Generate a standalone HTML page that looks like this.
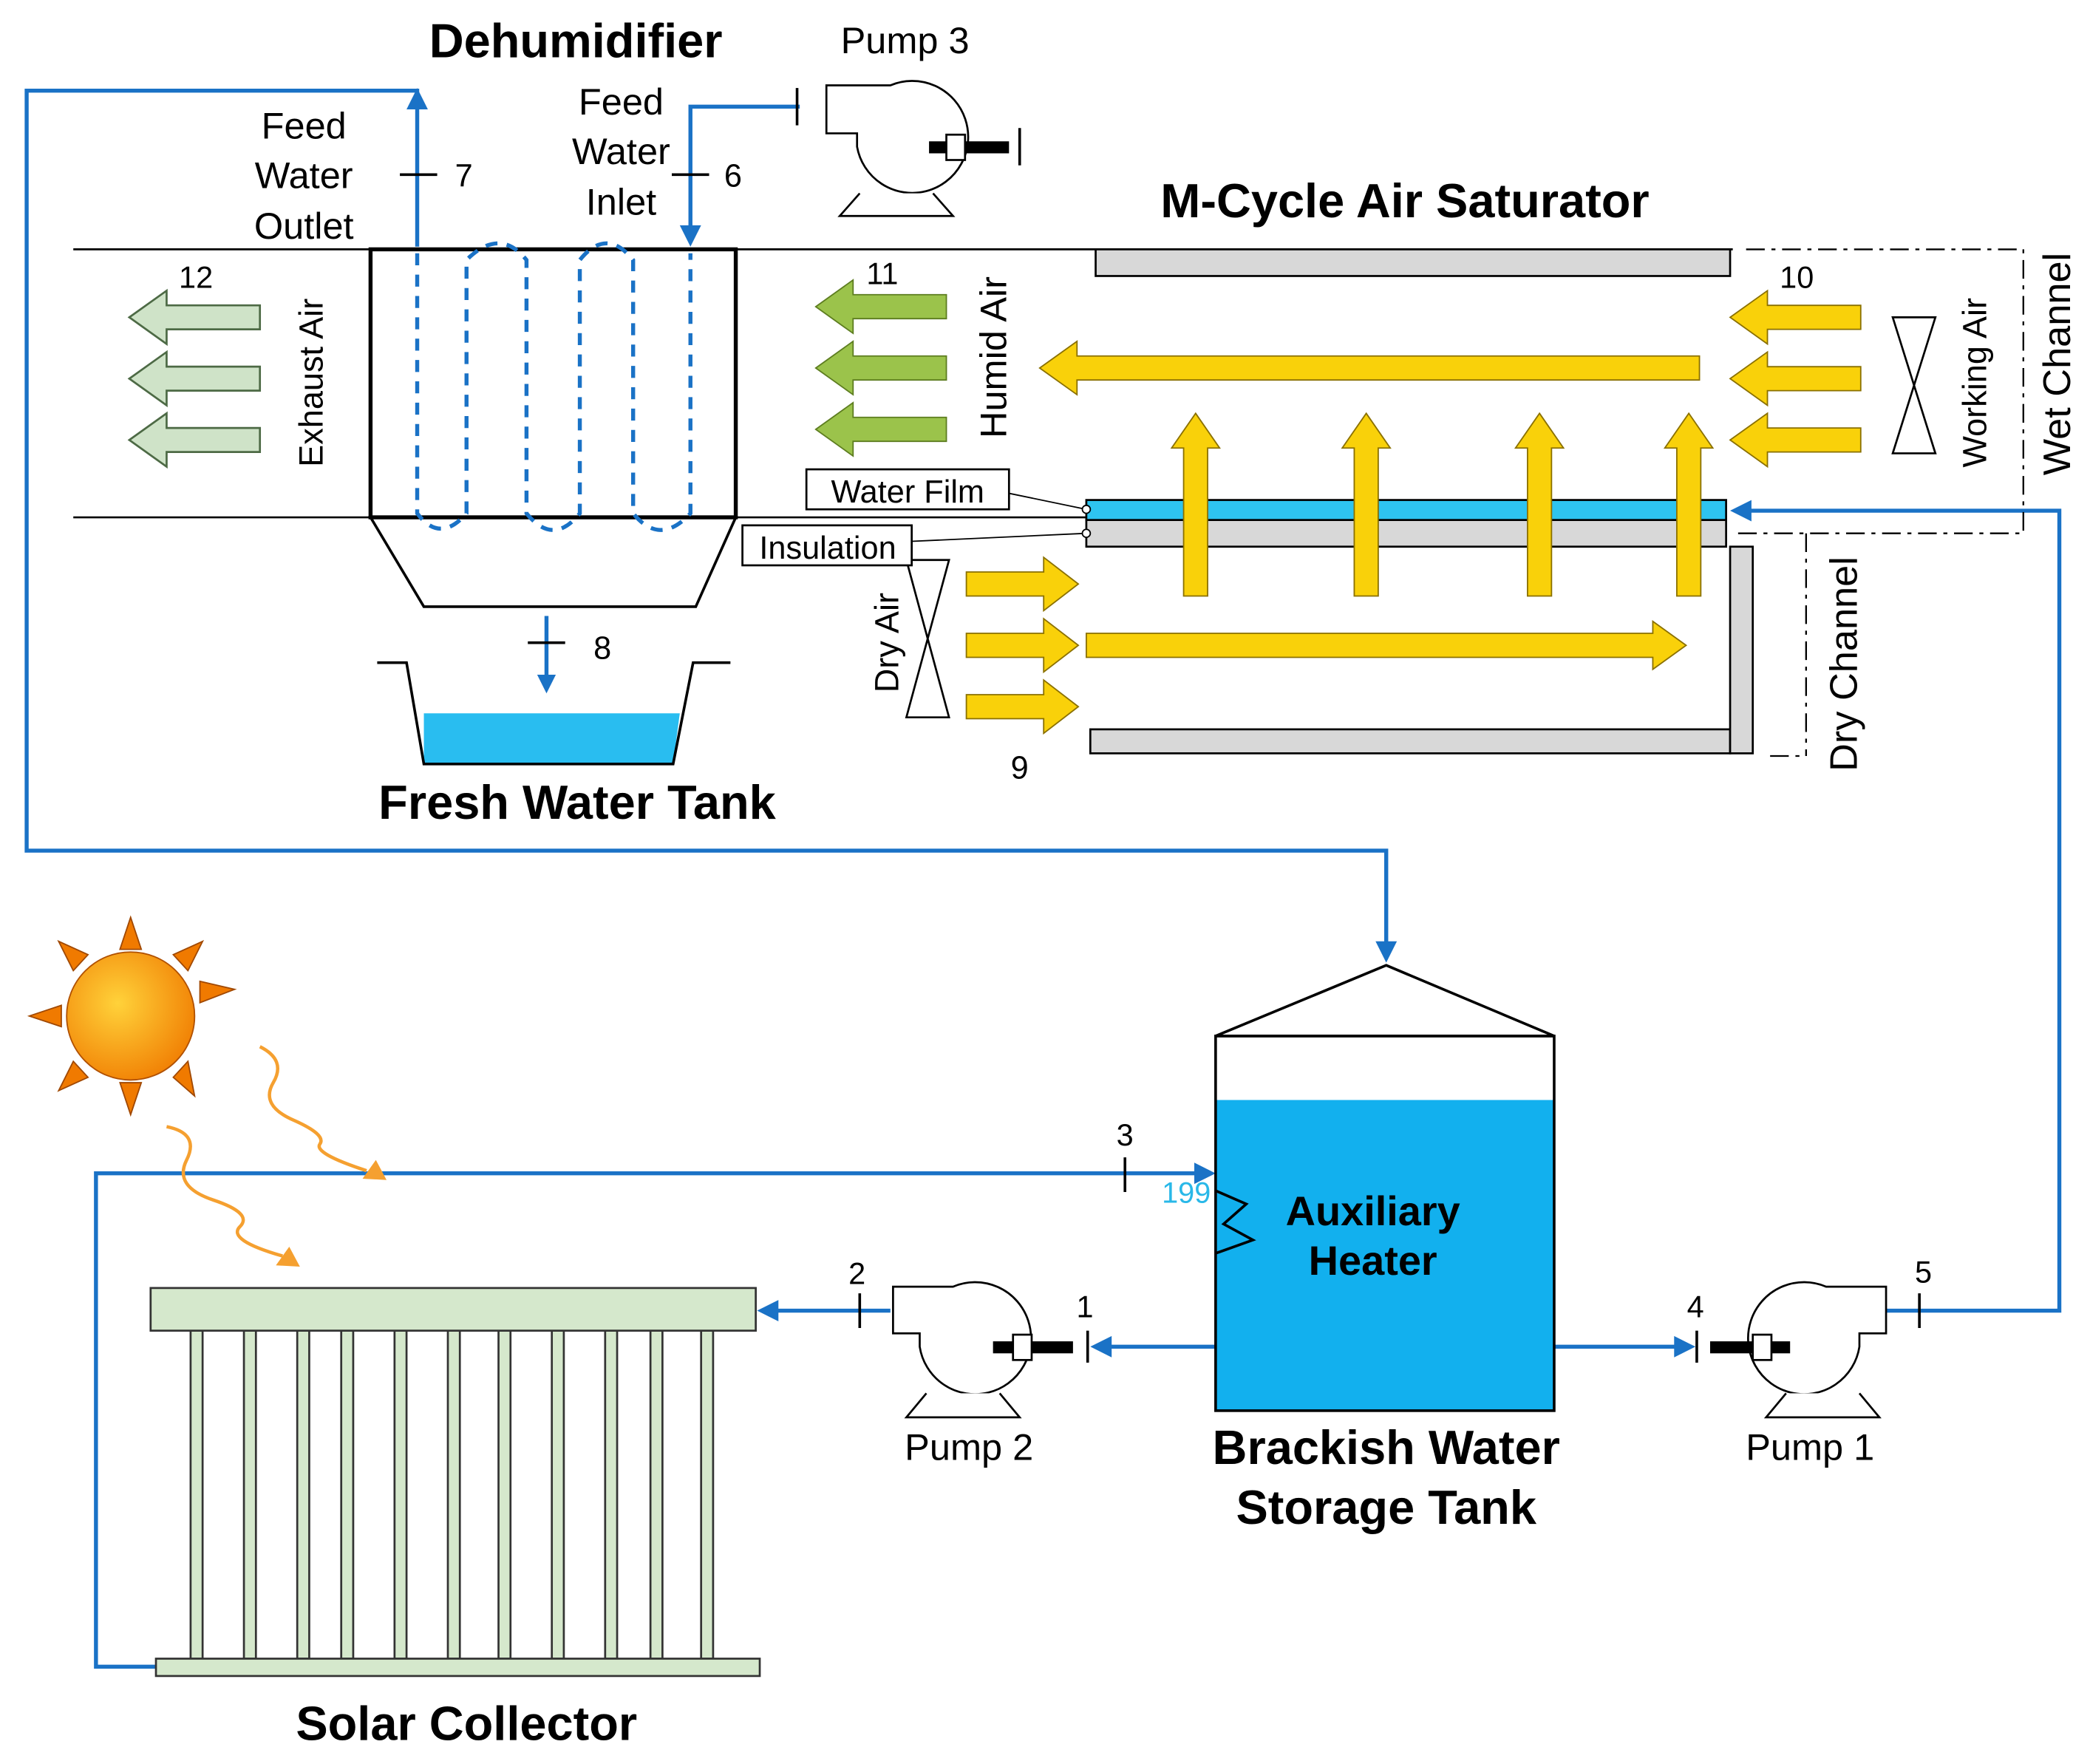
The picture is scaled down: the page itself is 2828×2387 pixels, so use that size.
<!DOCTYPE html>
<html><head><meta charset="utf-8"><style>
html,body{margin:0;padding:0;background:#fff;}
svg{display:block;}
text{font-family:"Liberation Sans",Arial,sans-serif;}
</style></head><body>
<svg width="2828" height="2387" viewBox="0 0 1568 1323" preserveAspectRatio="none" xmlns="http://www.w3.org/2000/svg">
<defs>
<path id="la" d="M0,0 L28,-20 L28,-9 L98,-9 L98,9 L28,9 L28,20 Z"/>
<path id="ra" d="M0,0 L-26,-20 L-26,-9 L-84,-9 L-84,9 L-26,9 L-26,20 Z"/>
<path id="ua" d="M0,0 L18,26 L9,26 L9,137 L-9,137 L-9,26 L-18,26 Z"/>
<radialGradient id="sun" cx="0.4" cy="0.4" r="0.7"><stop offset="0" stop-color="#ffd23a"/><stop offset="1" stop-color="#f07a00"/></radialGradient>
</defs>
<g fill="none" stroke="#1a72c6" stroke-width="3">
<polyline points="313,185 313,68 20,68 20,638 1040,638 1040,712"/>
<polyline points="600,80 518,80 518,175"/>
<polyline points="117,1250 72,1250 72,880 900,880"/>
<line x1="912" y1="1010" x2="825" y2="1010"/>
<line x1="668" y1="983" x2="578" y2="983"/>
<line x1="1166" y1="1010" x2="1262" y2="1010"/>
<polyline points="1415,983 1545,983 1545,383 1308,383"/>
<line x1="410" y1="462" x2="410" y2="510"/>
</g>
<g fill="#1a72c6">
<path d="M313,66 L305,82 L321,82Z"/><path d="M518,185 L510,169 L526,169Z"/>
<path d="M1040,722 L1032,706 L1048,706Z"/><path d="M912,880 L896,872 L896,888Z"/>
<path d="M818,1010 L834,1002 L834,1018Z"/><path d="M568,983 L584,975 L584,991Z"/>
<path d="M1272,1010 L1256,1002 L1256,1018Z"/><path d="M1298,383 L1314,375 L1314,391Z"/>
<path d="M410,520 L403,506 L417,506Z"/>
</g>
<g stroke="#000" stroke-width="2">
<line x1="300" y1="131" x2="328" y2="131"/><line x1="504" y1="131" x2="532" y2="131"/>
<line x1="396" y1="482" x2="424" y2="482"/><line x1="844" y1="868" x2="844" y2="894"/>
<line x1="645" y1="970" x2="645" y2="996"/><line x1="816" y1="998" x2="816" y2="1022"/>
<line x1="1273" y1="998" x2="1273" y2="1022"/><line x1="1440" y1="970" x2="1440" y2="996"/>
<line x1="598" y1="66" x2="598" y2="94"/>
</g>
<g stroke="#000" stroke-width="1.5">
<line x1="55" y1="187" x2="1300" y2="187"/><line x1="55" y1="388" x2="815" y2="388"/>
</g>
<polygon points="278,388 552,388 522,455 318,455" fill="#fff" stroke="#000" stroke-width="2"/>
<rect x="278" y="187" width="274" height="201" fill="#fff" stroke="#000" stroke-width="3"/>
<g fill="none" stroke="#1a72c6" stroke-width="3" stroke-dasharray="9,7">
<path d="M313,190 V385 Q330,408 350,385 V195 Q375,170 395,195 V385 Q415,410 435,385 V195 Q455,170 475,195 V385 Q495,410 518,385 V190"/>
</g>
<polygon points="318,535 510,535 505,573 318,573" fill="#29bdf0"/>
<polyline points="283,497 305,497 318,573 505,573 520,497 548,497" fill="none" stroke="#000" stroke-width="2"/>
<g fill="#d8d8d8" stroke="#000" stroke-width="1.5">
<rect x="822" y="187" width="476" height="20"/><rect x="815" y="390" width="480" height="20"/>
<rect x="818" y="547" width="480" height="18"/><rect x="1298" y="410" width="17" height="155"/>
</g>
<rect x="815" y="375" width="480" height="15" fill="#2ec4f0" stroke="#000" stroke-width="1.5"/>
<g fill="none" stroke="#000" stroke-width="1.3" stroke-dasharray="14,5,3,5">
<polyline points="1310,187 1518,187 1518,400 1300,400"/><line x1="1355" y1="400" x2="1355" y2="567"/><line x1="1328" y1="567" x2="1355" y2="567"/>
</g>
<g fill="#f9d10a" stroke="#8a7000" stroke-width="1">
<use href="#ua" x="897" y="310"/><use href="#ua" x="1025" y="310"/><use href="#ua" x="1155" y="310"/><use href="#ua" x="1267" y="310"/>
<path d="M780,276 L808,256 L808,267 L1275,267 L1275,285 L808,285 L808,296 Z"/>
<use href="#la" x="1298" y="238"/><use href="#la" x="1298" y="284"/><use href="#la" x="1298" y="330"/>
<use href="#ra" x="809" y="438"/><use href="#ra" x="809" y="484"/><use href="#ra" x="809" y="530"/>
<path d="M1265,484 L1240,466 L1240,475 L815,475 L815,493 L1240,493 L1240,502 Z"/>
</g>
<g fill="#9bc34b" stroke="#5d7d20" stroke-width="1"><use href="#la" x="612" y="230"/><use href="#la" x="612" y="276"/><use href="#la" x="612" y="322"/></g>
<g fill="#cfe3c8" stroke="#4d6a45" stroke-width="1.5"><use href="#la" x="97" y="238"/><use href="#la" x="97" y="284"/><use href="#la" x="97" y="330"/></g>
<g fill="#fff" stroke="#000" stroke-width="1.5">
<path d="M1420,238 L1452,238 L1420,340 L1452,340 Z"/><path d="M680,420 L712,420 L680,538 L712,538 Z"/>
</g>
<g fill="#fff" stroke="#000" stroke-width="1.5">
<rect x="605" y="352" width="152" height="30"/><rect x="557" y="394" width="127" height="30"/>
</g>
<g stroke="#000" stroke-width="1" fill="#fff"><line x1="757" y1="370" x2="815" y2="382"/><line x1="684" y1="406" x2="815" y2="400"/><circle cx="815" cy="382" r="3"/><circle cx="815" cy="400" r="3"/></g>
<rect x="912" y="825" width="254" height="233" fill="#12b0ee"/>
<polygon points="912,777 1040,724 1166,777" fill="#fff" stroke="#000" stroke-width="2"/>
<rect x="912" y="777" width="254" height="281" fill="none" stroke="#000" stroke-width="2"/>
<polyline points="912,893 935,903 918,918 940,930 912,940" fill="none" stroke="#000" stroke-width="2"/>
<g fill="#fff" stroke="#000" stroke-width="1.5">
<path d="M670,965 L715,965 A42,42 0 1 1 690,1010 L690,1000 L670,1000 Z"/><path d="M695,1045 L680,1063 L765,1063 L750,1045"/>
<path d="M1415,965 L1370,965 A42,42 0 1 0 1395,1010 L1395,1000 L1415,1000 Z"/><path d="M1340,1045 L1325,1063 L1410,1063 L1395,1045"/>
<path d="M620,64 L668,64 A42,42 0 1 1 643,110 L643,100 L620,100 Z"/><path d="M645,145 L630,162 L715,162 L700,145"/>
</g>
<g fill="#000"><rect x="745" y="1006" width="60" height="9"/><rect x="1283" y="1006" width="60" height="9"/><rect x="697" y="106" width="60" height="9"/></g>
<g fill="#fff" stroke="#000" stroke-width="1.5"><rect x="760" y="1001" width="14" height="19"/><rect x="1315" y="1001" width="14" height="19"/><rect x="710" y="101" width="14" height="19"/></g>
<line x1="765" y1="96" x2="765" y2="124" stroke="#000" stroke-width="2"/>
<g fill="#d5e8cc" stroke="#333" stroke-width="1.5">
<rect x="143" y="998" width="9" height="246"/><rect x="183" y="998" width="9" height="246"/><rect x="223" y="998" width="9" height="246"/><rect x="256" y="998" width="9" height="246"/><rect x="296" y="998" width="9" height="246"/><rect x="336" y="998" width="9" height="246"/><rect x="374" y="998" width="9" height="246"/><rect x="414" y="998" width="9" height="246"/><rect x="454" y="998" width="9" height="246"/><rect x="488" y="998" width="9" height="246"/><rect x="526" y="998" width="9" height="246"/>
<rect x="113" y="966" width="454" height="32"/><rect x="117" y="1244" width="453" height="13"/>
</g>
<g fill="#f07a00" stroke="#a04800" stroke-width="1">
<path d="M98,688 L90,712 L106,712Z"/><path d="M98,836 L90,812 L106,812Z"/><path d="M22,762 L46,754 L46,770Z"/><path d="M176,742 L150,736 L150,752Z"/>
<path d="M44,706 L55,728 L66,716Z"/><path d="M152,706 L130,716 L141,728Z"/><path d="M44,818 L66,808 L55,796Z"/><path d="M146,822 L130,808 L141,796Z"/>
</g>
<circle cx="98" cy="762" r="48" fill="url(#sun)" stroke="#b05000" stroke-width="1"/>
<g fill="none" stroke="#f5a030" stroke-width="2.5">
<path d="M195,785 Q215,795 205,812 T220,840 T240,858 T275,878"/><path d="M125,845 Q150,850 140,870 T160,900 T180,920 T212,942"/>
</g>
<g fill="#f5a030"><path d="M290,885 L272,884 L282,870Z"/><path d="M225,950 L207,949 L217,935Z"/></g>
<g fill="#000" font-size="28">
<text x="432" y="43" font-weight="bold" font-size="36" text-anchor="middle">Dehumidifier</text>
<text x="679" y="40" text-anchor="middle">Pump 3</text>
<text x="228" y="104" text-anchor="middle">Feed</text><text x="228" y="141" text-anchor="middle">Water</text><text x="228" y="179" text-anchor="middle">Outlet</text>
<text x="466" y="86" text-anchor="middle">Feed</text><text x="466" y="123" text-anchor="middle">Water</text><text x="466" y="161" text-anchor="middle">Inlet</text>
<text x="348" y="140" font-size="24" text-anchor="middle">7</text><text x="550" y="140" font-size="24" text-anchor="middle">6</text>
<text x="1054" y="163" font-weight="bold" font-size="36" text-anchor="middle">M-Cycle Air Saturator</text>
<text x="147" y="216" font-size="23" text-anchor="middle">12</text><text x="662" y="213" font-size="23" text-anchor="middle">11</text><text x="1348" y="216" font-size="23" text-anchor="middle">10</text>
<text x="681" y="377" font-size="24" text-anchor="middle">Water Film</text><text x="621" y="419" font-size="24" text-anchor="middle">Insulation</text>
<text x="452" y="494" font-size="24" text-anchor="middle">8</text><text x="765" y="584" font-size="24" text-anchor="middle">9</text>
<text x="433" y="614" font-weight="bold" font-size="36" text-anchor="middle">Fresh Water Tank</text>
<text transform="translate(242,287) rotate(-90)" text-anchor="middle" font-size="25">Exhaust Air</text>
<text transform="translate(755,268) rotate(-90)" text-anchor="middle" font-size="28">Humid Air</text>
<text transform="translate(1490,287) rotate(-90)" text-anchor="middle" font-size="25">Working Air</text>
<text transform="translate(1553,273) rotate(-90)" text-anchor="middle" font-size="29">Wet Channel</text>
<text transform="translate(1393,498) rotate(-90)" text-anchor="middle" font-size="29">Dry Channel</text>
<text transform="translate(674,482) rotate(-90)" text-anchor="middle" font-size="25">Dry Air</text>
<text x="844" y="859" font-size="23" text-anchor="middle">3</text><text x="643" y="963" font-size="23" text-anchor="middle">2</text>
<text x="814" y="988" font-size="23" text-anchor="middle">1</text><text x="1272" y="988" font-size="23" text-anchor="middle">4</text><text x="1443" y="962" font-size="23" text-anchor="middle">5</text>
<text x="890" y="902" font-size="22" fill="#29b8e8" text-anchor="middle">199</text>
<text x="1030" y="919" font-weight="bold" font-size="31" text-anchor="middle">Auxiliary</text><text x="1030" y="956" font-weight="bold" font-size="31" text-anchor="middle">Heater</text>
<text x="727" y="1095" text-anchor="middle">Pump 2</text><text x="1358" y="1095" text-anchor="middle">Pump 1</text>
<text x="1040" y="1098" font-weight="bold" font-size="36" text-anchor="middle">Brackish Water</text>
<text x="1040" y="1143" font-weight="bold" font-size="36" text-anchor="middle">Storage Tank</text>
<text x="350" y="1305" font-weight="bold" font-size="36" text-anchor="middle">Solar Collector</text>
</g>
</svg>
</body></html>
